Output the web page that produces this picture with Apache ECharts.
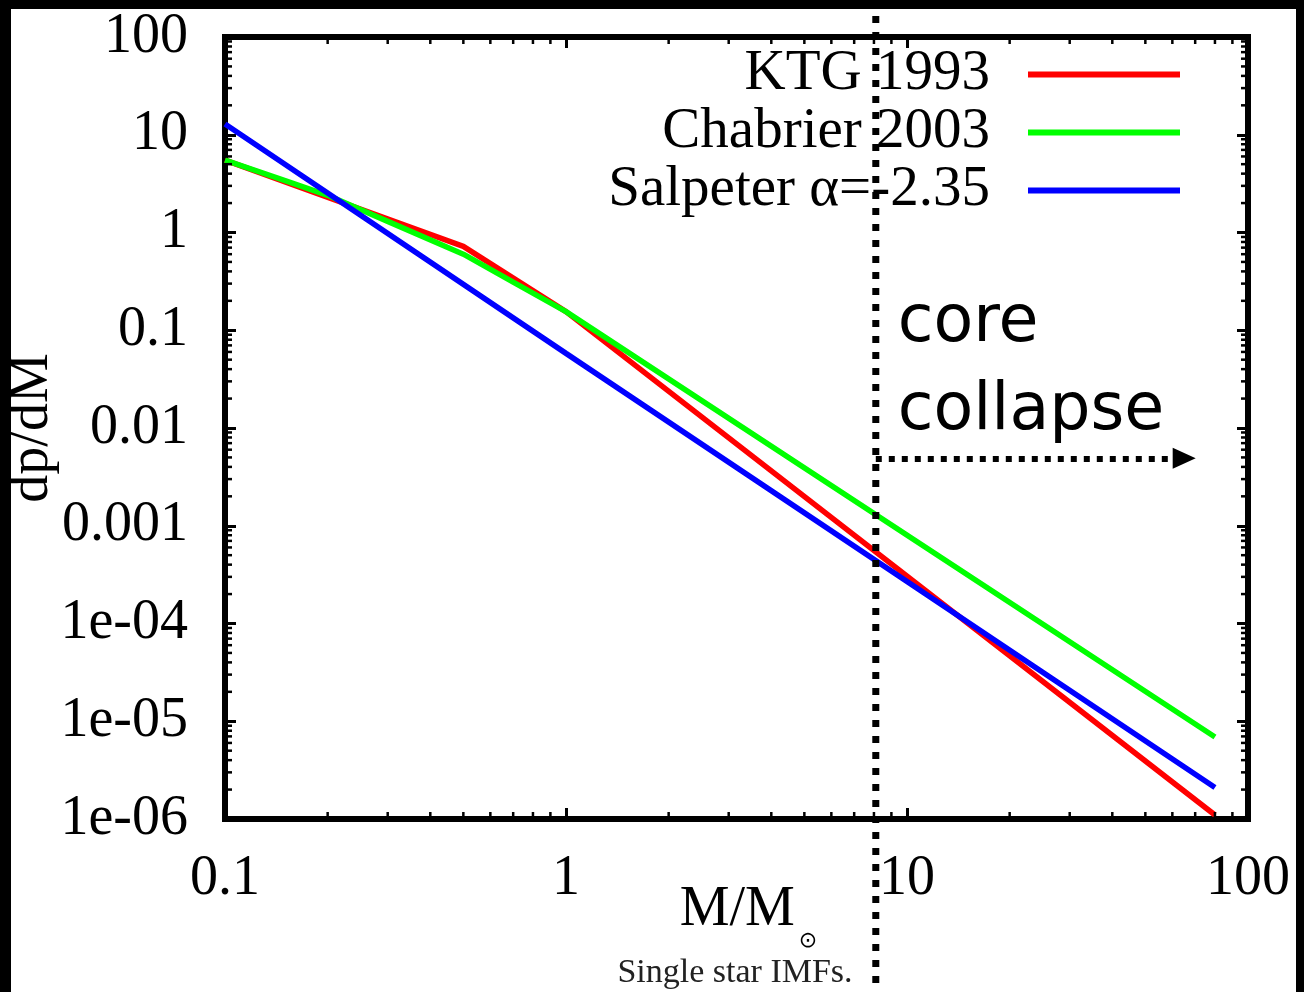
<!DOCTYPE html>
<html><head><meta charset="utf-8">
<script src="https://cdn.jsdelivr.net/npm/echarts@6/dist/echarts.min.js"></script>
<style>html,body{margin:0;padding:0;background:#000;} #c{width:1304px;height:992px;}</style>
</head><body><div id="c"></div>
<script>
// ---- data ----
const xTickLabels = ['0.1', '1', '10', '100'];
const yTickLabels = ['1e-06', '1e-05', '1e-04', '0.001', '0.01', '0.1', '1', '10', '100'];
const seriesNames = ['KTG 1993', 'Chabrier 2003', 'Salpeter α=-2.35'];
const seriesColors = ['#ff0000', '#00ff00', '#0000ff'];
const ktgMass = [0.1, 0.5, 1, 80];
const ktgValues = [5.5, 0.72, 0.155, 1.1e-6];
const chabrierMass = [0.1, 0.15, 0.2, 0.3, 0.5, 0.7, 1, 80];
const chabrierValues = [5.5, 3.4, 2.4, 1.3, 0.6, 0.31, 0.155, 6.9e-6];
const salpeterMass = [0.1, 1, 80];
const salpeterValues = [12.9, 0.058, 2.1e-6];
const coreCollapseMass = 8.1;
const arrowLevel = 0.0049;
const arrowEndMass = 65;

const SERIF = 'Liberation Serif';
const zip = (a, b) => a.map((v, i) => [v, b[i]]);
const massSets = [ktgMass, chabrierMass, salpeterMass];
const valueSets = [ktgValues, chabrierValues, salpeterValues];

function minorValues(minExp, maxExp) {
  const out = [];
  for (let e = minExp; e < maxExp; e++) for (let k = 2; k <= 9; k++) out.push(+(k * Math.pow(10, e)).toPrecision(3));
  return out;
}
const xMinor = minorValues(-1, 2);
const yMinor = minorValues(-6, 2);

function minorTickSeries(values, isX) {
  return {
    type: 'custom', silent: true, z: 5, animation: false,
    data: values.map(v => isX ? [v, 1] : [1, v]),
    renderItem: (params, api) => {
      const cs = params.coordSys;
      const p = api.coord([api.value(0), api.value(1)]);
      const L = 7;
      const st = { stroke: '#000', lineWidth: 2.5 };
      if (isX) {
        return { type: 'group', children: [
          { type: 'line', shape: { x1: p[0], y1: cs.y + cs.height, x2: p[0], y2: cs.y + cs.height - L }, style: st },
          { type: 'line', shape: { x1: p[0], y1: cs.y, x2: p[0], y2: cs.y + L }, style: st }
        ] };
      }
      return { type: 'group', children: [
        { type: 'line', shape: { x1: cs.x, y1: p[1], x2: cs.x + L, y2: p[1] }, style: st },
        { type: 'line', shape: { x1: cs.x + cs.width, y1: p[1], x2: cs.x + cs.width - L, y2: p[1] }, style: st }
      ] };
    }
  };
}

const majorTick = { show: true, inside: true, length: 11, lineStyle: { color: '#000', width: 3 } };
const xLabelIdx = v => xTickLabels[Math.round(Math.log10(v)) + 1];
const yLabelIdx = v => yTickLabels[Math.round(Math.log10(v)) + 6];

const chart = echarts.init(document.getElementById('c'), null, { renderer: 'canvas' });

const option = {
  animation: false,
  backgroundColor: '#000',
  grid: { left: 225, right: 56, top: 37, bottom: 173, show: true, borderColor: '#000', borderWidth: 6,
          backgroundColor: 'transparent', containLabel: false, outerBoundsMode: 'none' },
  xAxis: [
    { type: 'log', logBase: 10, min: 0.1, max: 100, position: 'bottom',
      axisLine: { show: false }, axisTick: majorTick, splitLine: { show: false },
      axisLabel: { formatter: xLabelIdx, fontFamily: SERIF, fontSize: 56, color: '#000', margin: 32 },
      name: '{m|M/M}{s|⊙}', nameLocation: 'middle', nameGap: 63, nameMoveOverlap: false,
      nameTextStyle: { padding: [0, 0, 0, 24], rich: {
        m: { fontFamily: SERIF, fontSize: 56, color: '#000', lineHeight: 70, verticalAlign: 'top' },
        s: { fontFamily: 'DejaVu Sans', fontSize: 22, color: '#000', lineHeight: 22, verticalAlign: 'bottom', padding: [0, 0, 0, 4] }
      } } },
    { type: 'log', logBase: 10, min: 0.1, max: 100, position: 'top',
      axisLine: { show: false }, axisTick: majorTick, splitLine: { show: false }, axisLabel: { show: false } }
  ],
  yAxis: [
    { type: 'log', logBase: 10, min: 1e-6, max: 100, position: 'left',
      axisLine: { show: false }, axisTick: majorTick, splitLine: { show: false },
      axisLabel: { formatter: yLabelIdx, fontFamily: SERIF, fontSize: 56, color: '#000', margin: 37 },
      name: 'dp/dM', nameLocation: 'middle', nameRotate: 90, nameGap: 165, nameMoveOverlap: false,
      nameTextStyle: { fontFamily: SERIF, fontSize: 56, color: '#000' } },
    { type: 'log', logBase: 10, min: 1e-6, max: 100, position: 'right',
      axisLine: { show: false }, axisTick: majorTick, splitLine: { show: false }, axisLabel: { show: false } }
  ],
  legend: seriesNames.map((n, i) => ({
    data: [n], right: 124, top: 46 + i * 58, orient: 'vertical', align: 'right',
    icon: 'rect', itemWidth: 152, itemHeight: 6, padding: 0, itemGap: 0, selectedMode: false,
    textStyle: { fontFamily: SERIF, fontSize: 57, color: '#000', padding: [0, 33, 12, 0] }
  })),
  series: [
    ...seriesNames.map((n, i) => ({
      type: 'line', name: n, data: zip(massSets[i], valueSets[i]), symbol: 'none', z: 3 + i,
      lineStyle: { color: seriesColors[i], width: 5.5 }, itemStyle: { color: seriesColors[i] },
      markLine: i === 2 ? {
        silent: true, symbol: ['none', 'triangle'], symbolSize: [21, 23], label: { show: false },
        lineStyle: { color: '#000', width: 6, type: [6, 7] },
        data: [[{ coord: [coreCollapseMass, arrowLevel] }, { coord: [arrowEndMass, arrowLevel] }]]
      } : undefined
    })),
    minorTickSeries(xMinor, true),
    minorTickSeries(yMinor, false)
  ]
};
chart.setOption(option);

const lineX = chart.convertToPixel({ xAxisIndex: 0 }, coreCollapseMass);
chart.setOption({
  graphic: [
    { type: 'rect', id: 'panel', shape: { x: 11, y: 9, width: 1285, height: 983 }, style: { fill: '#fff' }, z: -100, silent: true },
    { type: 'line', id: 'cc', shape: { x1: lineX, y1: 0, x2: lineX, y2: 992 }, style: { stroke: '#000', lineWidth: 7, lineDash: [7, 9] }, z: 100, silent: true },
    { type: 'text', id: 'cctext', x: lineX + 22, y: 280, z: 100, silent: true,
      style: { text: 'core\ncollapse', fontFamily: 'DejaVu Sans', fontSize: 65, lineHeight: 88, fill: '#000', align: 'left', verticalAlign: 'top' } },
    { type: 'text', id: 'caption', x: 735, y: 973, z: 100, silent: true,
      style: { text: 'Single star IMFs.', fontFamily: SERIF, fontSize: 34, fill: '#222', align: 'center', verticalAlign: 'middle' } }
  ]
});
</script></body></html>
